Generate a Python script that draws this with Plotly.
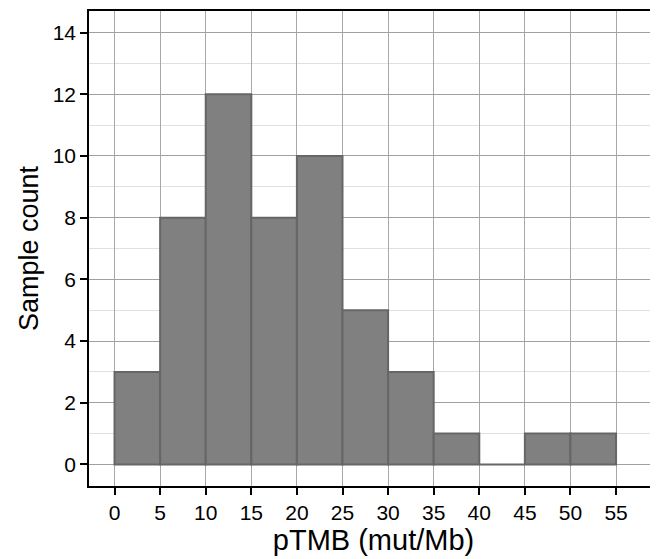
import plotly.graph_objects as go

bin_starts = [0, 5, 10, 15, 20, 25, 30, 35, 40, 45, 50]
bin_width = 5
counts = [3, 8, 12, 8, 10, 5, 3, 1, 0, 1, 1]
x_ticks = [0, 5, 10, 15, 20, 25, 30, 35, 40, 45, 50, 55]
y_ticks = [0, 2, 4, 6, 8, 10, 12, 14]

centers = [s + bin_width / 2 for s in bin_starts]

fig = go.Figure(go.Bar(
    x=centers, y=counts, width=[bin_width] * len(counts),
    marker=dict(color="#808080", line=dict(color="#666666", width=2)),
))

font = "Liberation Sans, Arial, Helvetica, sans-serif"
fig.update_layout(
    width=650, height=551,
    margin=dict(l=81, r=0, t=3, b=73),
    plot_bgcolor="white", paper_bgcolor="white",
    showlegend=False,
    font=dict(family=font, color="black", size=21),
)
fig.update_xaxes(
    range=[-2.8, 59.6], tickmode="array", tickvals=x_ticks,
    showgrid=True, gridcolor="#a8a8a8", gridwidth=1,
    showline=True, linecolor="black", linewidth=1.5, mirror=True,
    ticks="outside", ticklen=7, tickcolor="black", tickwidth=1.5,
    tickfont=dict(size=21),
    title=dict(text="pTMB (mut/Mb)", font=dict(size=29), standoff=7),
    zeroline=False,
)
fig.update_yaxes(
    range=[-0.7, 14.7], tickmode="array", tickvals=y_ticks,
    showgrid=True, gridcolor="#a0a0a0", gridwidth=1,
    minor=dict(dtick=1, showgrid=True, gridcolor="#e0e0e0", gridwidth=1, ticks=""),
    showline=True, linecolor="black", linewidth=1.5, mirror=False,
    ticks="outside", ticklen=7, tickcolor="black", tickwidth=1.5,
    tickfont=dict(size=21),
    title=dict(text="Sample count", font=dict(size=27), standoff=6),
    zeroline=False,
)
fig.write_html("out.html")
